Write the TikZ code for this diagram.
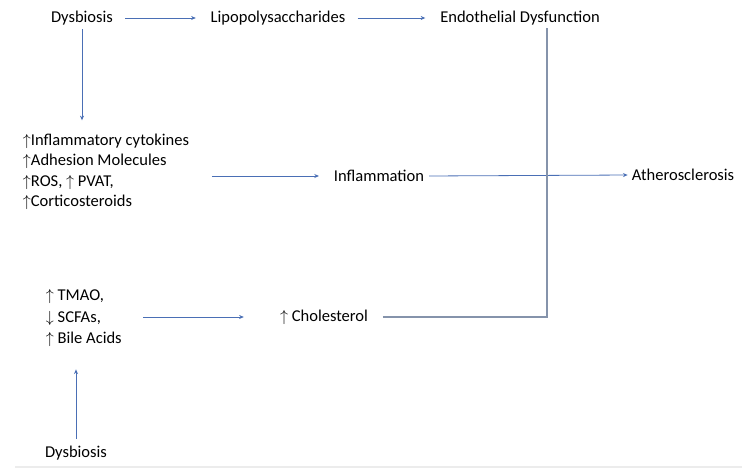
\documentclass[tikz,border=0pt]{standalone}
\usepackage{fontspec}
\setmainfont{Carlito}
\usetikzlibrary{arrows.meta}
\definecolor{arrowblue}{HTML}{4A6FB5}
\definecolor{linegray}{HTML}{8593AB}

\begin{document}
\begin{tikzpicture}[x=0.75pt, y=-0.75pt,
	every node/.style={inner sep=2pt, font=\fontsize{12.4}{15}\selectfont},
	flow/.style={draw=arrowblue, line width=0.6pt, -{Stealth[length=3.5pt, width=3pt]}, shorten <=7pt, shorten >=9pt},
	link/.style={draw=linegray, line width=1pt}]
	\useasboundingbox (0, 0) rectangle (742, 468);

	\node (dysTop) at (82, 18) {Dysbiosis};
	\node (lps) at (278, 18) {Lipopolysaccharides};
	\node (endo) at (520, 18) {Endothelial Dysfunction};
	\draw[flow] (dysTop) -- (lps);
	\draw[flow] (lps) -- (endo);

	\node[anchor=west, align=left, font=\fontsize{12.4}{15.4}\selectfont] (markers) at (20, 172)
		{$\uparrow$Inflammatory cytokines\\ $\uparrow$Adhesion Molecules\\ $\uparrow$ROS, $\uparrow$ PVAT,\\ $\uparrow$Corticosteroids};
	\draw[flow, shorten <=1pt, shorten >=8pt] (dysTop.south) -- (dysTop.south |- markers.north);

	\node (inflam) at (379, 176) {Inflammation};
	\node[anchor=west] (athero) at (629, 175) {Atherosclerosis};
	\draw[flow, shorten <=15pt] (markers.east |- inflam) -- (inflam);
	\coordinate (junc) at (547, 175);
	\draw[flow, shorten <=1.5pt, shorten >=1pt] (inflam.east) -- (athero.west);

	\node[anchor=west, align=left, font=\fontsize{12.4}{16}\selectfont] (gut) at (43, 318)
		{$\uparrow$ TMAO,\\ $\downarrow$ SCFAs,\\ $\uparrow$ Bile Acids};
	\node (chol) at (324, 317) {$\uparrow$ Cholesterol};
	\draw[flow, shorten <=14pt, shorten >=25pt] (gut.east |- chol) -- (chol);
	\draw[link, shorten <=9pt] (chol.east) -- (chol -| junc) -- (endo.south -| junc);

	\node (dysBot) at (76, 453) {Dysbiosis};
	\draw[flow, shorten <=3pt, shorten >=15pt] (dysBot.north) -- (dysBot.north |- gut.south);

	\draw[gray!15, line width=1pt] (15, 467) -- (742, 467);
\end{tikzpicture}
\end{document}
